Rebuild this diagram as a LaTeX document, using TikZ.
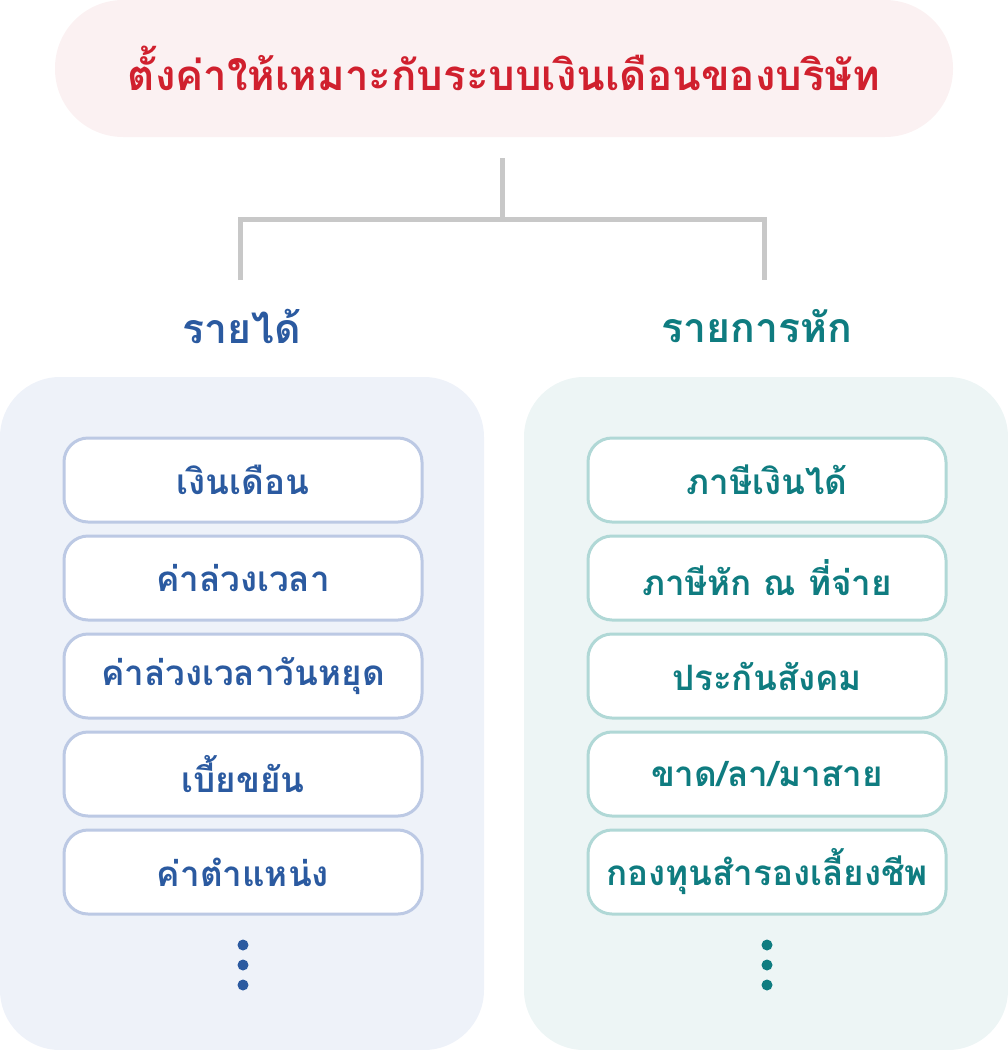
\documentclass[tikz,border=0pt]{standalone}
\usepackage{fontspec}
\newfontfamily\thai[Script=Thai]{Loma}
\definecolor{ttl}{HTML}{D0202E}
\definecolor{ttlbg}{HTML}{FBF1F2}
\definecolor{bl}{HTML}{2B5AA0}
\definecolor{tl}{HTML}{0F7C80}
\definecolor{blbg}{HTML}{EEF2F9}
\definecolor{tlbg}{HTML}{EDF5F5}
\definecolor{blst}{HTML}{BCC9E4}
\definecolor{tlst}{HTML}{B0D8D6}
\definecolor{conn}{HTML}{C8C8C8}
\tikzset{
 item/.style={draw=#1, line width=3pt, fill=white, rounded corners=24pt, minimum width=358pt, minimum height=84pt, inner sep=0pt, font=\thai\bfseries\fontsize{35}{40}\selectfont},
 lbl/.style={font=\thai\bfseries\fontsize{41}{46}\selectfont},
 ln/.style={conn, line width=5pt}
}
\begin{document}
\begin{tikzpicture}[x=1pt,y=-1pt]
\useasboundingbox (0,0) rectangle (1008,1050);
\node[fill=ttlbg, rounded corners=68pt, minimum width=898pt, minimum height=137pt, text=ttl, font=\thai\bfseries\fontsize{42}{48}\selectfont] (title) at (504,68.5) {ตั้งค่าให้เหมาะกับระบบเงินเดือนของบริษัท};
\coordinate (t) at (502,158); \coordinate (m) at (502,219);
\coordinate (la) at (240,219); \coordinate (lb) at (240,280);
\coordinate (ra) at (764,219); \coordinate (rb) at (764,280);
\draw[ln] (t) -- (m); \draw[ln] (lb) -- (la) -- (ra) -- (rb);
\node[lbl, text=bl] (inc) at (242,326) {รายได้};
\node[lbl, text=tl] (ded) at (757,326) {รายการหัก};
\fill[blbg, rounded corners=60pt] (0,377) rectangle (484,1050);
\fill[tlbg, rounded corners=60pt] (524,377) rectangle (1008,1050);
\foreach \i/\a/\b in {0/{เงินเดือน}/{ภาษีเงินได้}, 1/{ค่าล่วงเวลา}/{ภาษีหัก ณ ที่จ่าย}, 2/{ค่าล่วงเวลาวันหยุด}/{ประกันสังคม}, 3/{เบี้ยขยัน}/{ขาด/ลา/มาสาย}, 4/{ค่าตำแหน่ง}/{กองทุนสำรองเลี้ยงชีพ}}{
 \node[item=blst, text=bl] (l\i) at (243,480+98*\i) {\a};
 \node[item=tlst, text=tl] (r\i) at (767,480+98*\i) {\b};
}
\foreach \y in {945,965,985}{
 \fill[bl] (243,\y) circle (5.5pt);
 \fill[tl] (767,\y) circle (5.5pt);
}
\end{tikzpicture}
\end{document}
